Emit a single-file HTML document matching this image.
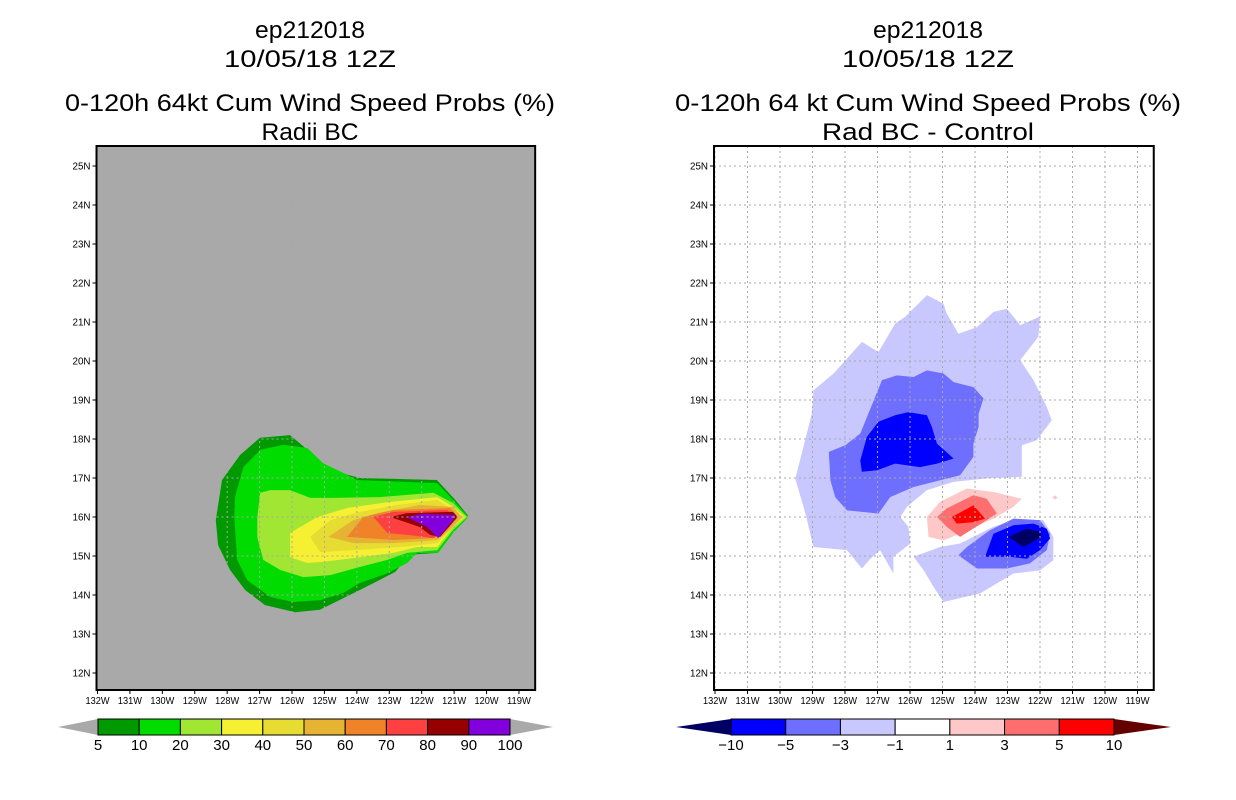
<!DOCTYPE html>
<html><head><meta charset="utf-8">
<style>
html,body{margin:0;padding:0;background:#fff;}
svg{display:block;font-family:"Liberation Sans",sans-serif;}
</style></head>
<body>
<svg id="chart" width="1236" height="800" viewBox="0 0 1236 800" xmlns="http://www.w3.org/2000/svg">
<g id="titles" font-size="24" fill="#000" text-anchor="middle">
  <text x="310" y="38" textLength="110" lengthAdjust="spacingAndGlyphs">ep212018</text>
  <text x="310" y="67" textLength="172" lengthAdjust="spacingAndGlyphs">10/05/18 12Z</text>
  <text x="310" y="111" textLength="490" lengthAdjust="spacingAndGlyphs">0-120h 64kt Cum Wind Speed Probs (%)</text>
  <text x="310" y="140" textLength="97" lengthAdjust="spacingAndGlyphs">Radii BC</text>
  <text x="928" y="38" textLength="110" lengthAdjust="spacingAndGlyphs">ep212018</text>
  <text x="928" y="67" textLength="172" lengthAdjust="spacingAndGlyphs">10/05/18 12Z</text>
  <text x="928" y="111" textLength="506" lengthAdjust="spacingAndGlyphs">0-120h 64 kt Cum Wind Speed Probs (%)</text>
  <text x="928" y="140" textLength="212" lengthAdjust="spacingAndGlyphs">Rad BC - Control</text>
</g>
</svg>
<script>
// ---------- data ----------
const lonTicks = [132,131,130,129,128,127,126,125,124,123,122,121,120,119];
const latTicks = [12,13,14,15,16,17,18,19,20,21,22,23,24,25];
const leftLevels = [5,10,20,30,40,50,60,70,80,90,100];
const leftColors = ["#009a00","#00dc00","#a0e632","#f5f032","#e6dc32","#e6b432","#f08228","#ff4040","#960000","#8200dc"];
// contour polygons: [lonW, latN] pairs
const probBand5 = [[128.35,15.92],[128.16,16.95],[127.6,17.59],[126.99,18.03],[126.06,18.1],[125.45,17.67],[124.83,17.2],[123.9,17.0],[121.53,16.95],[120.97,16.44],[120.57,16.03],[120.97,15.67],[121.53,15.08],[122.36,15.03],[122.82,14.59],[123.9,14.13],[125.14,13.62],[125.9,13.56],[126.83,13.74],[127.45,14.13],[127.91,14.64],[128.28,15.28]];
const probBand10 = [[127.76,16.51],[127.5,17.28],[126.98,17.72],[126.27,17.85],[125.53,17.77],[125.04,17.38],[124.42,17.13],[123.99,16.95],[121.52,16.87],[121.03,16.44],[120.56,16.0],[121.03,15.59],[121.49,15.08],[122.14,15.08],[122.45,14.82],[123.06,14.56],[123.9,14.31],[124.42,14.05],[125.13,13.87],[125.96,13.82],[126.67,13.95],[127.38,14.38],[127.69,14.9],[127.78,16.0]];
const probBand20 = [[127.07,16.0],[126.98,16.62],[126.67,16.69],[126.06,16.69],[125.44,16.49],[124.82,16.49],[123.28,16.51],[121.64,16.62],[121.03,16.36],[120.6,16.0],[121.03,15.67],[121.52,15.15],[122.45,15.08],[123.06,14.9],[123.9,14.72],[124.82,14.51],[125.65,14.46],[126.36,14.64],[126.89,14.9],[127.07,15.49]];
const probBand30 = [[126.06,15.59],[125.75,15.74],[125.22,16.0],[124.3,16.23],[123.06,16.38],[121.52,16.51],[121.03,16.26],[120.66,16.0],[121.03,15.74],[121.52,15.23],[122.14,15.23],[122.88,15.08],[123.9,14.97],[125.04,14.85],[125.53,14.82],[126.06,14.97]];
const probBand40 = [[125.44,15.49],[124.82,15.92],[123.9,16.13],[122.75,16.31],[121.52,16.44],[120.72,16.0],[121.52,15.33],[122.66,15.23],[124.11,15.15],[125.13,15.1]];
const probBand50 = [[124.88,15.49],[124.11,15.92],[123.37,16.1],[122.05,16.31],[121.03,16.26],[120.75,16.0],[121.12,15.67],[121.52,15.41],[122.88,15.33],[124.11,15.33]];
const probBand60 = [[124.3,15.49],[123.8,16.0],[122.88,16.18],[121.12,16.23],[120.87,16.0],[121.21,15.67],[121.64,15.46],[122.88,15.41]];
const probBand70 = [[123.49,16.0],[122.88,16.13],[121.21,16.18],[120.9,16.0],[121.34,15.59],[121.64,15.46],[122.45,15.54],[123.06,15.59]];
const probBand80 = [[122.97,16.0],[122.45,16.1],[121.03,16.13],[120.9,16.0],[121.43,15.49],[121.74,15.54],[122.05,15.74]];
const probBand90 = [[122.45,16.0],[121.96,16.08],[120.97,16.05],[121.03,15.92],[121.49,15.46],[121.83,15.74]];
const leftBands = [probBand5,probBand10,probBand20,probBand30,probBand40,probBand50,probBand60,probBand70,probBand80,probBand90];

const rightLevels = [-10,-5,-3,-1,1,3,5,10];
const rightColors = ["#0000ff","#6e6eff","#c8c8ff","#ffffff","#ffc8c8","#ff6e6e","#ff0000"];
const diffNeg1Upper = [[129.53,16.98],[129.02,18.65],[128.97,19.25],[128.35,19.68],[127.48,20.49],[126.97,20.23],[126.46,20.96],[126.15,21.13],[125.48,21.69],[124.97,21.47],[124.87,21.22],[124.51,20.7],[123.94,20.87],[123.43,21.26],[123.02,21.34],[122.61,20.92],[122.0,21.14],[122.05,20.62],[122.61,20.02],[122.2,19.51],[121.79,18.82],[121.64,18.48],[122.1,17.97],[122.56,17.84],[122.56,17.03],[123.64,16.99],[124.66,16.9],[125.48,16.69],[126.1,16.26],[126.3,16.0],[126.05,15.75],[125.99,15.32],[126.51,14.98],[126.51,14.55],[126.92,15.15],[127.22,14.93],[127.48,14.68],[127.94,15.15],[128.97,15.23],[129.22,16.09]];
const diffNeg1Lower = [[125.89,14.98],[125.07,15.23],[124.46,15.32],[123.43,15.75],[122.82,15.92],[121.9,15.92],[121.59,15.49],[121.59,14.89],[122.0,14.63],[122.82,14.55],[123.84,14.04],[124.97,13.82],[125.28,14.21],[125.58,14.63]];
const diffNeg3Upper = [[128.5,17.67],[127.99,17.84],[127.53,18.14],[126.86,19.51],[126.4,19.63],[125.89,19.59],[125.48,19.76],[124.97,19.68],[124.66,19.46],[124.05,19.33],[123.74,19.04],[123.89,18.65],[123.89,18.31],[124.05,17.88],[124.05,17.54],[124.46,17.07],[125.07,16.94],[125.89,16.77],[126.61,16.51],[126.97,16.09],[127.94,16.17],[128.3,16.51],[128.45,16.94]];
const diffNeg3Lower = [[124.51,15.02],[124.25,15.23],[123.54,15.66],[122.82,15.96],[122.0,15.92],[121.69,15.57],[121.79,15.15],[122.31,14.81],[123.02,14.68],[123.94,14.68]];
const diffNeg5Upper = [[127.53,17.45],[127.33,18.05],[126.97,18.44],[126.46,18.61],[126.05,18.69],[125.48,18.61],[125.33,18.31],[125.17,17.88],[124.66,17.5],[125.17,17.37],[125.69,17.28],[126.46,17.37],[127.02,17.2],[127.48,17.16]];
const diffNeg5Lower = [[123.69,14.98],[123.43,15.57],[122.82,15.79],[122.2,15.83],[121.79,15.7],[121.69,15.45],[122.0,15.15],[122.41,14.93],[122.92,14.98]];
const diffNeg10 = [[122.97,15.49],[122.41,15.7],[122.0,15.62],[121.95,15.49],[122.51,15.23]];
const diffPos1 = [[125.48,16.0],[125.07,16.39],[124.25,16.73],[123.43,16.64],[122.56,16.47],[122.82,16.26],[123.43,15.96],[124.46,15.57],[124.97,15.4],[125.43,15.49]];
const diffPos1Dot = [[121.62,16.5],[121.54,16.56],[121.46,16.5],[121.54,16.44]];
const diffPos3 = [[125.17,16.0],[124.87,16.22],[124.05,16.56],[123.64,16.47],[123.33,16.09],[123.64,15.92],[124.46,15.49],[124.87,15.75]];
const diffPos5 = [[124.71,16.0],[124.05,16.3],[123.69,15.96],[124.05,15.87],[124.56,15.83]];
const rightBands = [
  [diffNeg1Upper,"#c8c8ff","diff-band-neg1-north"],[diffNeg1Lower,"#c8c8ff","diff-band-neg1-south"],
  [diffNeg3Upper,"#6e6eff","diff-band-neg3-north"],[diffNeg3Lower,"#6e6eff","diff-band-neg3-south"],
  [diffNeg5Upper,"#0000ff","diff-band-neg5-north"],[diffNeg5Lower,"#0000ff","diff-band-neg5-south"],
  [diffNeg10,"#000064","diff-band-neg10"],
  [diffPos1,"#ffc8c8","diff-band-pos1"],[diffPos1Dot,"#ffc8c8","diff-band-pos1-dot"],
  [diffPos3,"#ff6e6e","diff-band-pos3"],[diffPos5,"#ff0000","diff-band-pos5"]
];

// ---------- drawing ----------
const NS="http://www.w3.org/2000/svg";
const svg=document.getElementById('chart');
function mk(tag,attrs,parent){const e=document.createElementNS(NS,tag);for(const k in attrs)e.setAttribute(k,attrs[k]);(parent||svg).appendChild(e);return e;}

function panel(cfg){
  const xOf=lon=>cfg.x132+(132-lon)*cfg.dx;
  const yOf=lat=>673-(lat-12)*39;
  const L=cfg.x132-1,R=xOf(118.5),T=146,B=690;
  const g=mk('g',{});
  
  
  const bg=mk('rect',{x:L,y:T,width:R-L,height:B-T,fill:cfg.bg},g);
  
  
  const clipId=cfg.name+'-clip';
  const cp=mk('clipPath',{id:clipId},g);mk('rect',{x:L,y:T,width:R-L,height:B-T},cp);
  const cg=mk('g',{'clip-path':'url(#'+clipId+')'},g);
  cfg.bands.forEach(b=>{
    const p=mk('polygon',{points:b[0].map(v=>xOf(v[0]).toFixed(1)+','+yOf(v[1]).toFixed(1)).join(' '),fill:b[1]},cg);
    
    
  });
  // grid
  lonTicks.forEach(lon=>{const x=xOf(lon);
    const l=mk('line',{x1:x,x2:x,y1:T,y2:B,stroke:'#a8a8a8','stroke-width':1,'stroke-dasharray':'2,3'},cg);
    
    });
  latTicks.forEach(lat=>{const y=yOf(lat);
    const l=mk('line',{x1:L,x2:R,y1:y,y2:y,stroke:'#a8a8a8','stroke-width':1,'stroke-dasharray':'2,3'},cg);
    
    });
  const fr=mk('rect',{x:L,y:T,width:R-L,height:B-T,fill:'none',stroke:'#000','stroke-width':2},g);
  
  
  lonTicks.forEach(lon=>{const x=xOf(lon);
    mk('line',{x1:x,x2:x,y1:B,y2:B+4,stroke:'#000'},g);
    const t=mk('text',{x:x,y:B+14,'font-size':10,'text-anchor':'middle',textLength:24,lengthAdjust:'spacingAndGlyphs'},g);
    t.textContent=lon+'W';
    
    });
  latTicks.forEach(lat=>{const y=yOf(lat);
    mk('line',{x1:L-4,x2:L,y1:y,y2:y,stroke:'#000'},g);
    const t=mk('text',{x:L-6,y:y+3.5,'font-size':10,'text-anchor':'end',textLength:18,lengthAdjust:'spacingAndGlyphs'},g);
    t.textContent=lat+'N';
    
    });
  // colorbar
  const cb=mk('g',{},svg);
  
  
  const n=cfg.colors.length, bx0=cfg.cb0, bx1=cfg.cb1, w=(bx1-bx0)/n, y0=719,y1=735,ym=727;
  const lt=mk('polygon',{points:`${cfg.tipL},${ym} ${bx0},${y0} ${bx0},${y1}`,fill:cfg.tipLc},cb);
  
  
  const rt=mk('polygon',{points:`${cfg.tipR},${ym} ${bx1},${y0} ${bx1},${y1}`,fill:cfg.tipRc},cb);
  
  
  cfg.colors.forEach((c,i)=>{
    const r=mk('rect',{x:bx0+i*w,y:y0,width:w,height:y1-y0,fill:c,stroke:'#000','stroke-width':1},cb);
    
    
  });
  cfg.levels.forEach((v,i)=>{
    const t=mk('text',{x:bx0+i*w,y:750,'font-size':15,'text-anchor':'middle'},cb);
    t.textContent=v<0?'\u2212'+(-v):String(v);
    
    
  });
}
panel({name:'left-map',x132:97.5,dx:32.42,bg:'#a9a9a9',
  bands:leftBands.map((b,i)=>[b,leftColors[i],'prob-band-'+leftLevels[i]]),
  colors:leftColors,levels:leftLevels,cb0:98,cb1:510,tipL:58,tipR:553,tipLc:'#a9a9a9',tipRc:'#a9a9a9'});
panel({name:'right-map',x132:715,dx:32.5,bg:'#ffffff',
  bands:rightBands,colors:rightColors,levels:rightLevels,cb0:731,cb1:1114,tipL:676,tipR:1171,tipLc:'#000064',tipRc:'#640000'});
</script>
</body></html>
